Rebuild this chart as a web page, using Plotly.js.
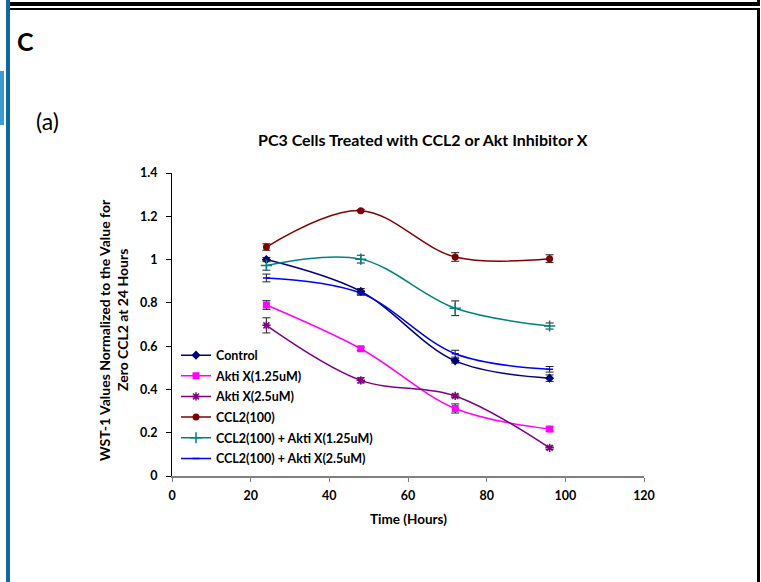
<!DOCTYPE html>
<html>
<head>
<meta charset="utf-8">
<script src="https://cdn.plot.ly/plotly-3.0.1.min.js"></script>
<style>
  html, body { margin: 0; padding: 0; background: #fff; }
  #wrap { position: relative; width: 761px; height: 582px; overflow: hidden; background: #fff; }
  .blk { position: absolute; }
  #chart { position: absolute; left: 0; top: 0; width: 761px; height: 582px; }
</style>
</head>
<body>
<div id="wrap">
  <div class="blk" style="left:7px; top:2px; width:753px; height:4px; background:#000;"></div>
  <div class="blk" style="left:757px; top:0px; width:3px; height:6px; background:#000;"></div>
  <div class="blk" style="left:7px; top:8px; width:753px; height:2px; background:#000;"></div>
  <div class="blk" style="left:757px; top:8px; width:3px; height:574px; background:#000;"></div>
  <div class="blk" style="left:6px; top:0px; width:4px; height:582px; background:#0b6aa6;"></div>
  <div class="blk" style="left:0px; top:71px; width:4px; height:54px; background:#3d9bd3;"></div>
  <div id="chart"></div>
</div>
<script>
// ---- data ----
const hours = [24, 48, 72, 96];
const seriesNames = ["Control", "Akti X(1.25uM)", "Akti X(2.5uM)", "CCL2(100)",
                     "CCL2(100) + Akti X(1.25uM)", "CCL2(100) + Akti X(2.5uM)"];
const control        = [1.000, 0.853, 0.532, 0.452];
const controlErr     = [0.010, 0.013, 0.010, 0.015];
const akti125        = [0.790, 0.588, 0.312, 0.217];
const akti125Err     = [0.020, 0.008, 0.021, 0.010];
const akti25         = [0.696, 0.442, 0.370, 0.130];
const akti25Err      = [0.035, 0.012, 0.008, 0.008];
const ccl2           = [1.058, 1.226, 1.012, 1.004];
const ccl2Err        = [0.015, 0.005, 0.020, 0.018];
const ccl2Akti125    = [0.973, 1.002, 0.775, 0.693];
const ccl2Akti125Err = [0.022, 0.018, 0.034, 0.014];
const ccl2Akti25     = [0.915, 0.845, 0.565, 0.493];
const ccl2Akti25Err  = [0.018, 0.010, 0.016, 0.013];
const xTicks = [0, 20, 40, 60, 80, 100, 120];
const yTicks = [0, 0.2, 0.4, 0.6, 0.8, 1, 1.2, 1.4];
const yTickText = ["0", "0.2", "0.4", "0.6", "0.8", "1", "1.2", "1.4"];

// ---- styling ----
const FONT = "Lato, 'Open Sans', 'DejaVu Sans', sans-serif";
const values = [control, akti125, akti25, ccl2, ccl2Akti125, ccl2Akti25];
const errs = [controlErr, akti125Err, akti25Err, ccl2Err, ccl2Akti125Err, ccl2Akti25Err];
const colors = ["#000080", "#ff00ff", "#800080", "#800000", "#008080", "#0000ff"];
const symbols = ["diamond", "square", "asterisk-open", "circle", "cross-thin-open", "line-ew-open"];
const sizes = [7, 7, 7, 7, 8, 5];

const traces = values.map((v, i) => ({
  type: "scatter",
  mode: "lines+markers",
  name: seriesNames[i],
  legendgroup: "g" + i,
  x: hours,
  y: v,
  line: { color: colors[i], width: 1.5, shape: "spline", smoothing: 1 },
  marker: {
    symbol: symbols[i], size: sizes[i], color: colors[i],
    line: { color: colors[i], width: (symbols[i].indexOf("open") >= 0) ? 1.5 : 0 }
  },
  error_y: { type: "data", array: errs[i], visible: true, color: "#222", thickness: 1, width: 4 }
}));

// plot area pixel geometry
const L = 172, R = 644, T = 173, B = 476;
const px = p => (p - L) / (R - L);
const py = p => (B - p) / (B - T);

const layout = {
  width: 761, height: 582,
  margin: { l: L, r: 761 - R, t: T, b: 582 - B, pad: 0 },
  paper_bgcolor: "rgba(0,0,0,0)",
  plot_bgcolor: "rgba(0,0,0,0)",
  showlegend: true,
  font: { family: FONT, color: "#000" },
  xaxis: {
    range: [0, 120], tickvals: xTicks, ticktext: xTicks.map(String),
    showgrid: false, zeroline: false, showline: true, linecolor: "#808080", linewidth: 1.5,
    ticks: "outside", ticklen: 4, tickcolor: "#808080", tickwidth: 1,
    ticklabelstandoff: 3,
    tickfont: { family: FONT, size: 12.5, weight: "bold", color: "#000" },
    fixedrange: true
  },
  yaxis: {
    range: [0, 1.4], tickvals: yTicks, ticktext: yTickText,
    showgrid: false, zeroline: false, showline: true, linecolor: "#000", linewidth: 1,
    ticks: "outside", ticklen: 5, tickcolor: "#000", tickwidth: 1,
    ticklabelstandoff: 6,
    tickfont: { family: FONT, size: 12.5, weight: "bold", color: "#000" },
    fixedrange: true
  },
  legend: {
    x: px(176), y: py(340.5), xanchor: "left", yanchor: "top",
    bgcolor: "rgba(0,0,0,0)", borderwidth: 0,
    font: { family: FONT, size: 12.5, weight: "bold", color: "#000" },
    traceorder: "grouped", tracegroupgap: 1.4,
    itemwidth: 30
  },
  annotations: [
    { text: "PC3 Cells Treated with CCL2 or Akt Inhibitor X", xref: "paper", yref: "paper",
      x: px(423), y: py(139), xanchor: "center", yanchor: "middle", showarrow: false,
      font: { family: FONT, size: 16, weight: "bold", color: "#000" } },
    { text: "Time (Hours)", xref: "paper", yref: "paper",
      x: px(408), y: py(519), xanchor: "center", yanchor: "middle", showarrow: false,
      font: { family: FONT, size: 13.5, weight: "bold", color: "#000" } },
    { text: "WST-1 Values Normalized to the Value for", xref: "paper", yref: "paper",
      x: px(104), y: py(330), xanchor: "center", yanchor: "middle", showarrow: false, textangle: -90,
      font: { family: FONT, size: 14, weight: "bold", color: "#000" } },
    { text: "Zero CCL2 at 24 Hours", xref: "paper", yref: "paper",
      x: px(122), y: py(320), xanchor: "center", yanchor: "middle", showarrow: false, textangle: -90,
      font: { family: FONT, size: 14, weight: "bold", color: "#000" } },
    { text: "C", xref: "paper", yref: "paper",
      x: px(15), y: py(41), xanchor: "left", yanchor: "middle", showarrow: false,
      font: { family: FONT, size: 25, weight: "bold", color: "#000" } },
    { text: "(a)", xref: "paper", yref: "paper",
      x: px(34), y: py(121), xanchor: "left", yanchor: "middle", showarrow: false,
      font: { family: FONT, size: 23, color: "#000" } }
  ]
};

Plotly.newPlot("chart", traces, layout, { displayModeBar: false, staticPlot: true });
</script>
</body>
</html>
